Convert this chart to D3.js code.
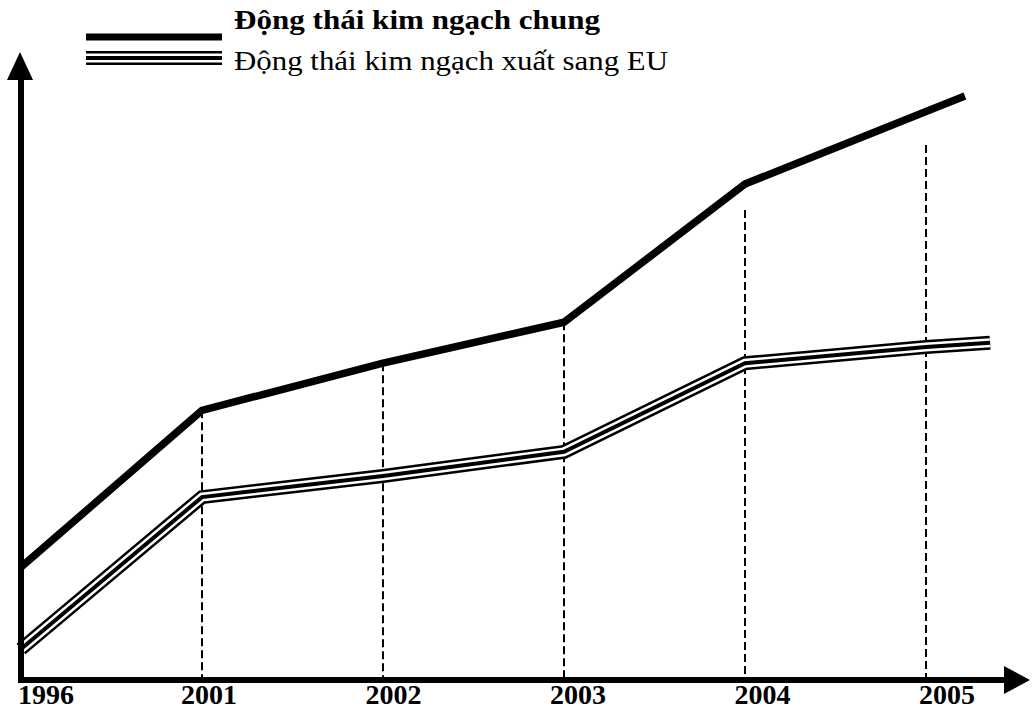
<!DOCTYPE html>
<html>
<head>
<meta charset="utf-8">
<script src="https://cdn.jsdelivr.net/npm/d3@7/dist/d3.min.js"></script>
<style>
  html, body { margin: 0; padding: 0; background: #fff; }
  svg { display: block; }
  text { font-family: "Liberation Serif", "DejaVu Serif", serif; fill: #000; }
</style>
</head>
<body>
<svg id="chart" width="1032" height="712"></svg>
<script>
// ---- data ----
const years = ["1996", "2001", "2002", "2003", "2004", "2005"];
const totalValues = [18.2, 43.5, 51.1, 57.7, 80.0, 91.7];
const euValues = [5.0, 29.5, 32.9, 36.8, 51.1, 53.7];
// lines run past the last year mark (position in year-steps, value)
const totalTail = { idx: 5.215, value: 94.2 };
const euTail = { idx: 5.354, value: 54.4 };
// top of the dashed drop line at each year (value units)
const dashTops = [null, 43.5, 51.1, 57.7, 75.8, 86.3];
const legendLabels = ["Động thái kim ngạch chung", "Động thái kim ngạch xuất sang EU"];

// ---- scales ----
const svg = d3.select("#chart");
const x = d3.scaleLinear().domain([0, years.length - 1]).range([21, 926]);
const y = d3.scaleLinear().domain([0, 100]).range([680, 60]);
const labelX = d3.scaleLinear().domain([1, years.length - 1]).range([209, 947]);

const line = d3.line().x(d => x(d.idx)).y(d => y(d.value));

const totalData = totalValues.map((v, i) => ({ idx: i, value: v })).concat([totalTail]);
const euData = euValues.map((v, i) => ({ idx: i, value: v })).concat([euTail]);

// ---- dashed drop lines ----
svg.append("g").selectAll("line")
  .data(dashTops.map((t, i) => ({ i, t })).filter(d => d.t !== null))
  .join("line")
  .attr("x1", d => x(d.i)).attr("x2", d => x(d.i))
  .attr("y1", d => y(d.t)).attr("y2", y(0))
  .attr("stroke", "#000").attr("stroke-width", 2)
  .attr("stroke-dasharray", "8,4");

// ---- EU triple line ----
function tripleLine(g, d) {
  g.append("path").attr("d", d).attr("fill", "none").attr("stroke", "#000")
    .attr("stroke-width", 14).attr("stroke-linejoin", "miter");
  g.append("path").attr("d", d).attr("fill", "none").attr("stroke", "#fff")
    .attr("stroke-width", 9).attr("stroke-linejoin", "miter");
  g.append("path").attr("d", d).attr("fill", "none").attr("stroke", "#000")
    .attr("stroke-width", 4).attr("stroke-linejoin", "miter");
}
tripleLine(svg.append("g"), line(euData));

// ---- total thick line ----
svg.append("path").attr("d", line(totalData))
  .attr("fill", "none").attr("stroke", "#000").attr("stroke-width", 7.5)
  .attr("stroke-linejoin", "round").attr("stroke-linecap", "butt");

// ---- axes ----
const axes = svg.append("g");
axes.append("line").attr("x1", x(0)).attr("x2", x(0)).attr("y1", y(0) + 3).attr("y2", 76)
  .attr("stroke", "#000").attr("stroke-width", 6);
axes.append("path").attr("d", "M20,52 L33,80 L7,80 Z").attr("fill", "#000");
axes.append("line").attr("x1", x(0) - 3).attr("x2", 1008).attr("y1", y(0)).attr("y2", y(0))
  .attr("stroke", "#000").attr("stroke-width", 6);
axes.append("path").attr("d", "M1030,680 L1004,666 L1004,694 Z").attr("fill", "#000");

// year labels
svg.append("g").selectAll("text").data(years).join("text")
  .attr("x", (d, i) => i === 0 ? x(i) - 3 : labelX(i))
  .attr("y", 704)
  .attr("text-anchor", (d, i) => i === 0 ? "start" : "middle")
  .attr("font-size", 28).attr("font-weight", "bold")
  .text(d => d);

// ---- legend ----
const lg = svg.append("g");
lg.append("line").attr("x1", 86).attr("x2", 222).attr("y1", 37).attr("y2", 37)
  .attr("stroke", "#000").attr("stroke-width", 7);
tripleLine(lg, d3.line()([[86, 58], [222, 58]]));
lg.append("text").attr("x", 234).attr("y", 29).attr("font-size", 28)
  .attr("font-weight", "bold")
  .attr("textLength", 366).attr("lengthAdjust", "spacingAndGlyphs")
  .text(legendLabels[0]);
lg.append("text").attr("x", 234).attr("y", 70).attr("font-size", 28)
  .attr("textLength", 434).attr("lengthAdjust", "spacingAndGlyphs")
  .text(legendLabels[1]);
</script>
</body>
</html>
